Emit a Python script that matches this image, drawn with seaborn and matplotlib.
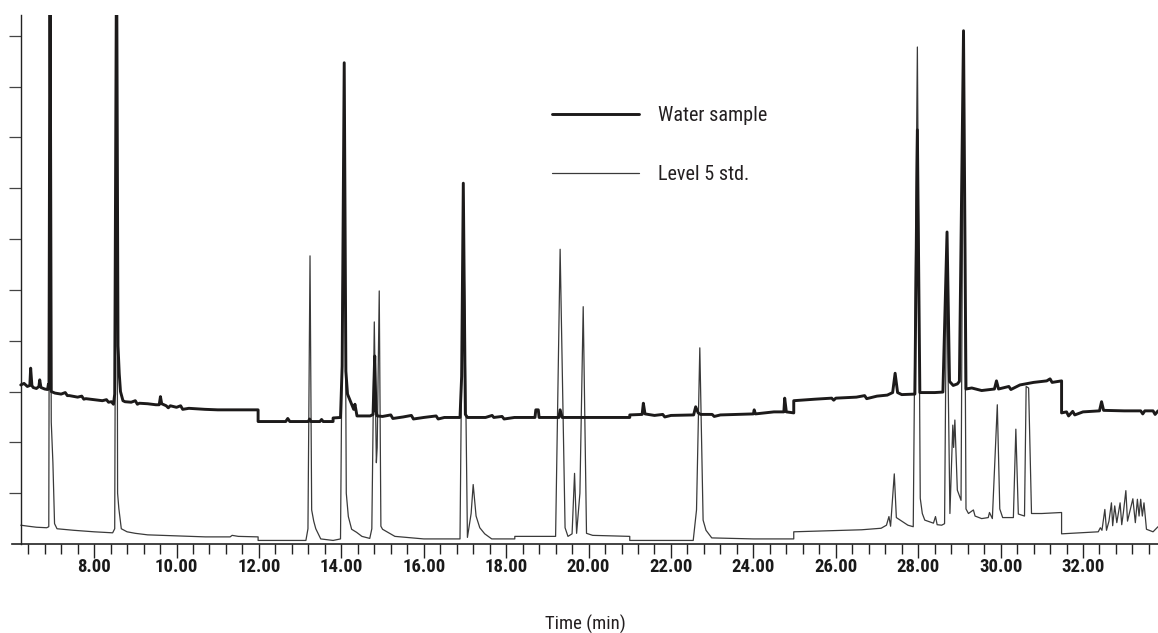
import os
import numpy as np
import pandas as pd
import matplotlib
matplotlib.use("Agg")
import matplotlib.pyplot as plt
import matplotlib.font_manager as fm
from matplotlib.ticker import FixedLocator, FormatStrFormatter
import seaborn as sns

# ---------------- data ----------------
water_t = [6.22, 6.30, 6.38, 6.44, 6.46, 6.49, 6.52, 6.60, 6.66, 6.68, 6.71, 6.80, 6.87, 6.89, 6.905,
           6.93, 6.96, 7.05, 7.2, 7.3, 7.35, 7.4, 7.6, 7.7, 7.75, 7.8, 8.0, 8.2, 8.3, 8.35, 8.42, 8.47,
           8.50, 8.545, 8.58, 8.61, 8.64, 8.70, 8.75, 8.9, 9.0, 9.05, 9.1, 9.3, 9.5, 9.58, 9.61, 9.64,
           9.75, 9.8, 9.85, 10.0, 10.1, 10.15, 10.3, 10.69, 11.0, 11.5, 11.98, 11.98, 12.5, 12.65,
           12.70, 12.75, 13.2, 13.23, 13.26, 13.48, 13.52, 13.56, 13.8, 13.8, 13.98, 14.02, 14.07,
           14.11, 14.15, 14.2, 14.25, 14.3, 14.33, 14.38, 14.5, 14.7, 14.77, 14.81, 14.84, 14.87,
           15.0, 15.2, 15.25, 15.5, 15.7, 15.75, 16.0, 16.3, 16.35, 16.5, 16.88, 16.92, 16.96,
           17.01, 17.06, 17.5, 17.66, 17.7, 17.9, 17.95, 18.2, 18.7, 18.72, 18.78, 18.8, 19.28,
           19.31, 19.36, 20.0, 21.0, 21.0, 21.3, 21.33, 21.37, 21.6, 21.8, 21.85, 22.0, 22.55,
           22.6, 22.66, 22.72, 23.0, 23.05, 23.2, 23.6, 24.0, 24.02, 24.05, 24.5, 24.74, 24.76,
           24.8, 24.98, 24.98, 25.5, 25.9, 25.95, 26.0, 26.5, 26.7, 26.75, 27.0, 27.25, 27.38,
           27.44, 27.5, 27.6, 27.92, 27.98, 28.04, 28.4, 28.6, 28.70, 28.76, 28.85, 28.95, 29.0,
           29.10, 29.16, 29.3, 29.54, 29.85, 29.9, 29.95, 30.2, 30.25, 30.47, 30.8, 31.12, 31.2,
           31.25, 31.48, 31.48, 31.6, 31.65, 31.75, 31.8, 32.0, 32.4, 32.45, 32.5, 33.0, 33.4,
           33.45, 33.5, 33.7, 33.75, 33.82]
water_v = [3.13, 3.16, 3.10, 3.12, 3.46, 3.12, 3.08, 3.06, 3.10, 3.23, 3.08, 3.05, 3.04, 3.14, 3.05,
           12.0, 3.00, 2.97, 2.95, 2.98, 2.92, 2.92, 2.89, 2.91, 2.85, 2.86, 2.84, 2.82, 2.84, 2.79, 2.80,
           2.75, 2.95, 12.0, 3.90, 3.35, 3.00, 2.82, 2.80, 2.79, 2.82, 2.75, 2.77, 2.76, 2.74, 2.74,
           2.90, 2.76, 2.72, 2.68, 2.72, 2.69, 2.72, 2.65, 2.67, 2.65, 2.64, 2.64, 2.64, 2.41, 2.41,
           2.41, 2.47, 2.41, 2.41, 2.46, 2.41, 2.41, 2.45, 2.41, 2.41, 2.48, 2.49, 3.50, 9.47,
           3.40, 2.95, 2.85, 2.75, 2.65, 2.75, 2.52, 2.52, 2.52, 2.55, 3.70, 2.62, 2.52,
           2.51, 2.54, 2.47, 2.50, 2.53, 2.46, 2.49, 2.52, 2.46, 2.49, 2.49, 3.30, 7.10,
           2.55, 2.49, 2.49, 2.53, 2.49, 2.51, 2.46, 2.49, 2.49, 2.64, 2.64, 2.49, 2.49,
           2.64, 2.49, 2.49, 2.49, 2.54, 2.55, 2.77, 2.56, 2.53, 2.55, 2.50, 2.53, 2.54,
           2.70, 2.58, 2.55, 2.55, 2.51, 2.54, 2.55, 2.56, 2.64, 2.56, 2.60, 2.60, 2.87,
           2.60, 2.58, 2.82, 2.85, 2.87, 2.83, 2.87, 2.89, 2.92, 2.86, 2.91, 2.93, 2.98,
           3.36, 2.98, 2.94, 2.95, 8.15, 2.98, 2.98, 2.99, 6.14, 3.20, 3.12, 3.15, 3.20,
           10.10, 3.05, 3.07, 3.02, 3.05, 3.21, 3.05, 3.10, 3.04, 3.13, 3.18, 3.21, 3.25,
           3.18, 3.21, 2.58, 2.60, 2.52, 2.61, 2.54, 2.60, 2.62, 2.80, 2.63, 2.62, 2.62,
           2.56, 2.62, 2.62, 2.55, 2.62]

std_t = [6.22, 6.4, 6.6, 6.85, 6.90, 6.93, 6.96, 7.0, 7.04, 7.1, 7.5, 8.0, 8.45, 8.50, 8.545, 8.57,
         8.6, 8.66, 8.8, 9.0, 9.3, 10.0, 10.7, 11.3, 11.35, 11.5, 11.98, 11.98, 13.14, 13.19, 13.24,
         13.28, 13.33, 13.38, 13.5, 13.8, 13.98, 14.07, 14.12, 14.17, 14.25, 14.37, 14.5, 14.69,
         14.74, 14.80, 14.85, 14.87, 14.92, 14.96, 15.0, 15.3, 16.0, 16.5, 16.88, 16.96, 17.06,
         17.15, 17.2, 17.27, 17.36, 17.48, 17.65, 18.21, 18.21, 19.2, 19.31, 19.43, 19.5, 19.6,
         19.66, 19.71, 19.79, 19.87, 19.95, 20.1, 21.0, 21.0, 22.54, 22.62, 22.70, 22.78, 22.85,
         22.99, 24.0, 24.98, 24.98, 26.63, 27.1, 27.23, 27.29, 27.33, 27.42, 27.47, 27.6, 27.75,
         27.88, 27.98, 28.05, 28.1, 28.16, 28.37, 28.42, 28.46, 28.57, 28.64, 28.69, 28.77, 28.84,
         28.86, 28.89, 28.95, 29.04, 29.10, 29.16, 29.22, 29.34, 29.38, 29.54, 29.7, 29.73, 29.8,
         29.92, 29.98, 30.05, 30.31, 30.37, 30.43, 30.58, 30.62, 30.68, 30.75, 31.0, 31.48, 31.48,
         31.93, 32.37, 32.42, 32.46, 32.53, 32.57, 32.63, 32.69, 32.72, 32.77, 32.82, 32.9, 32.94,
         32.98, 33.04, 33.08, 33.13, 33.21, 33.27, 33.32, 33.36, 33.4, 33.44, 33.48, 33.54, 33.7,
         33.82]
std_v = [0.37, 0.35, 0.33, 0.32, 0.34, 12.0, 2.40, 1.60, 0.40, 0.30, 0.27, 0.24, 0.22, 0.30, 12.0, 1.00,
         0.70, 0.30, 0.24, 0.21, 0.18, 0.16, 0.14, 0.14, 0.17, 0.15, 0.14, 0.07, 0.07, 0.30, 5.67,
         0.67, 0.45, 0.30, 0.10, 0.07, 0.10, 9.20, 1.00, 0.54, 0.29, 0.23, 0.15, 0.11,
         0.30, 4.37, 1.60, 1.90, 4.98, 0.35, 0.29, 0.15, 0.10, 0.10, 0.10, 7.00, 0.13,
         0.60, 1.17, 0.55, 0.32, 0.20, 0.10, 0.10, 0.15, 0.15, 5.80, 0.32, 0.15, 0.20,
         1.39, 0.21, 1.00, 4.67, 0.21, 0.17, 0.15, 0.07, 0.07, 0.67, 3.86, 0.47, 0.27,
         0.12, 0.10, 0.10, 0.24, 0.28, 0.31, 0.37, 0.54, 0.35, 1.38, 0.52, 0.45, 0.37,
         0.34, 9.78, 0.90, 0.60, 0.47, 0.41, 0.54, 0.38, 0.37, 0.40, 5.50, 0.60, 2.34,
         1.90, 2.44, 1.06, 0.86, 10.0, 0.69, 0.60, 0.67, 0.55, 0.50, 0.52, 0.62, 0.50,
         2.74, 0.69, 0.52, 0.52, 2.26, 0.59, 0.55, 3.10, 3.07, 0.60, 0.60, 0.62, 0.20,
         0.22, 0.24, 0.32, 0.27, 0.68, 0.27, 0.45, 0.81, 0.36, 0.75, 0.42, 0.81, 0.38,
         0.62, 1.05, 0.45, 0.62, 0.89, 0.42, 0.88, 0.55, 0.88, 0.55, 0.81, 0.29, 0.24,
         0.34]

series_labels = ["Water sample", "Level 5 std."]
major_ticks = [8, 10, 12, 14, 16, 18, 20, 22, 24, 26, 28, 30, 32]
minor_ticks = [round(6.4 + 0.4 * i, 1) for i in range(69)]
y_ticks = [1, 2, 3, 4, 5, 6, 7, 8, 9, 10]
x_title = "Time (min)"

# ---------------- fonts ----------------
_files = {os.path.basename(f.fname).lower(): f.fname for f in fm.fontManager.ttflist}

def find_file(cands):
    for c in cands:
        if c.lower() in _files:
            return _files[c.lower()]
    return None

bold_file = find_file(["RobotoCondensed-Bold.ttf", "FiraSansCondensed-Bold.ttf",
                       "PT_Sans-Narrow-Web-Bold.ttf", "BarlowSemiCondensed-SemiBold.ttf",
                       "AsapCondensed-Bold.ttf"])
reg_file = find_file(["RobotoCondensed-Regular.ttf", "FiraSansCondensed-Regular.ttf",
                      "PT_Sans-Narrow-Web-Regular.ttf", "BarlowSemiCondensed-Regular.ttf",
                      "AsapCondensed-Regular.ttf"])

def fp(file, size, bold=False):
    if file:
        return fm.FontProperties(fname=file, size=size)
    return fm.FontProperties(family="DejaVu Sans", weight="bold" if bold else "normal", size=size)

# ---------------- plot ----------------
sns.set_style("ticks")
plt.rcParams["font.family"] = ["DejaVu Sans"]

W, H = 1158, 633
fig = plt.figure(figsize=(W / 100, H / 100), dpi=100)
ax = fig.add_axes([11.7 / W, 89 / H, (W - 11.7) / W, (544 - 15) / H])

df_w = pd.DataFrame({"t": water_t, "v": water_v})
df_s = pd.DataFrame({"t": std_t, "v": std_v})

sns.lineplot(data=df_s, x="t", y="v", ax=ax, estimator=None, sort=False,
             color="#3a3a3a", linewidth=0.9, label=series_labels[1], zorder=2)
sns.lineplot(data=df_w, x="t", y="v", ax=ax, estimator=None, sort=False,
             color="#1c1a1a", linewidth=2.1, label=series_labels[0], zorder=3)

ax.set_xlim(6.0, 33.82)
ax.set_ylim(0, 10.41)

for s in ["top", "right"]:
    ax.spines[s].set_visible(False)
ax.spines["left"].set_position(("data", 6.22))
ax.spines["left"].set_linewidth(1.0)
ax.spines["bottom"].set_linewidth(1.2)
ax.spines["left"].set_color("#222222")
ax.spines["bottom"].set_color("#222222")

ax.xaxis.set_major_locator(FixedLocator(major_ticks))
ax.xaxis.set_minor_locator(FixedLocator([m for m in minor_ticks if abs(m / 2 - round(m / 2)) > 1e-6]))
ax.xaxis.set_major_formatter(FormatStrFormatter("%.2f"))
ax.yaxis.set_major_locator(FixedLocator(y_ticks))
ax.set_yticklabels([])

ax.tick_params(axis="x", which="major", direction="out", length=10, width=1.0, color="#222222", pad=0)
ax.tick_params(axis="x", which="minor", direction="out", length=7.5, width=1.0, color="#222222")
ax.tick_params(axis="y", which="major", direction="out", length=9, width=0.9, color="#444444")

tick_fp = fp(bold_file, 13.5, bold=True)
for lab in ax.get_xticklabels():
    lab.set_fontproperties(tick_fp)
    lab.set_color("#1a1a1a")

ax.set_xlabel("")
ax.set_ylabel("")
fig.text(585 / W, 3.5 / H, x_title, ha="center", va="baseline",
         fontproperties=fp(reg_file, 13.5), color="#231f20")

handles, labels = ax.get_legend_handles_labels()
order = [labels.index(series_labels[0]), labels.index(series_labels[1])]
leg = ax.legend([handles[i] for i in order], [labels[i] for i in order],
                loc="upper left", bbox_to_anchor=(552 / W, 1 - 106 / H),
                bbox_transform=fig.transFigure, frameon=False, borderpad=0, borderaxespad=0,
                handlelength=4.3, handletextpad=0.97, labelspacing=2.0,
                prop=fp(reg_file, 14.5))
for t in leg.get_texts():
    t.set_color("#231f20")

fig.savefig("out.png", dpi=100)
